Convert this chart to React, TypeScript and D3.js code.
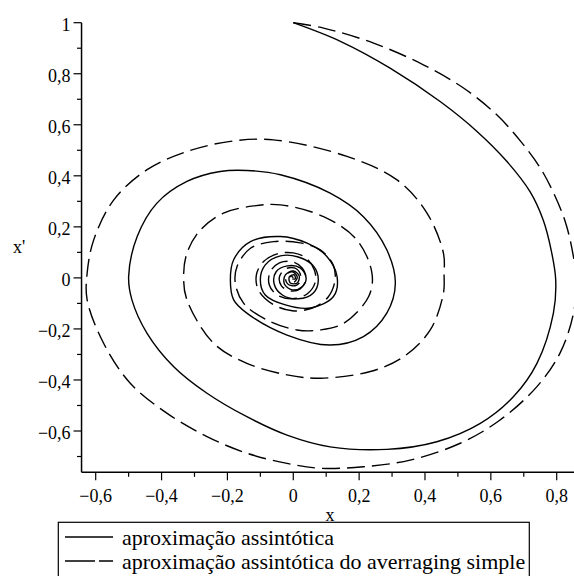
import React from 'react';
import * as d3 from 'd3';

// phase plane values: [x, x']
const assintotica: [number, number][] = [
  [0, 1], [0.143, 0.927], [0.294, 0.822], [0.446, 0.691], [0.558, 0.574], [0.649, 0.456],
  [0.719, 0.338], [0.759, 0.227], [0.783, 0.11], [0.797, -0.008], [0.79, -0.138],
  [0.74, -0.335], [0.669, -0.465], [0.568, -0.57], [0.436, -0.642], [0.284, -0.672],
  [0.112, -0.662], [-0.019, -0.616], [-0.141, -0.544], [-0.262, -0.452], [-0.363, -0.348],
  [-0.444, -0.217], [-0.49, -0.086], [-0.5, 0.005], [-0.474, 0.162], [-0.414, 0.293],
  [-0.323, 0.378], [-0.222, 0.417], [-0.141, 0.421], [-0.039, 0.404], [0.112, 0.332],
  [0.213, 0.24], [0.284, 0.11], [0.31, -0.021], [0.284, -0.138], [0.213, -0.23],
  [0.112, -0.263], [-0.019, -0.224], [-0.141, -0.138], [-0.181, -0.086], [-0.191, -0.008],
  [-0.181, 0.071], [-0.13, 0.142], [-0.039, 0.162], [0.042, 0.136], [0.102, 0.084],
  [0.133, 0.005], [0.122, -0.073], [0.052, -0.118], [-0.024, -0.106], [-0.085, -0.067],
  [-0.1, -0.008], [-0.085, 0.051], [-0.039, 0.086], [0.015, 0.082], [0.061, 0.047],
  [0.076, -0.008], [0.061, -0.059], [0.015, -0.082], [-0.033, -0.067], [-0.058, -0.024],
  [-0.052, 0.024], [-0.018, 0.047], [0.021, 0.039], [0.039, 0.0], [0.027, -0.035],
  [-0.003, -0.047], [-0.027, -0.024], [-0.024, 0.012], [0.0, 0.027], [0.018, 0.008],
  [0.012, -0.02], [-0.009, -0.02], [-0.012, 0.004], [0.003, 0.012], [0.006, -0.004],
  [-0.003, -0.004],
];

const averaging: [number, number][] = [
  [0, 1], [0.092, 0.979], [0.244, 0.92], [0.395, 0.835], [0.517, 0.744], [0.618, 0.639],
  [0.692, 0.533], [0.75, 0.431], [0.792, 0.329], [0.826, 0.22], [0.847, 0.11], [0.859, -0.008],
  [0.851, -0.138], [0.81, -0.295], [0.74, -0.426], [0.628, -0.557], [0.507, -0.648],
  [0.355, -0.714], [0.213, -0.74], [0.082, -0.746], [-0.019, -0.727], [-0.141, -0.687],
  [-0.262, -0.622], [-0.383, -0.531], [-0.495, -0.413], [-0.576, -0.256], [-0.626, -0.086],
  [-0.626, 0.018], [-0.606, 0.149], [-0.545, 0.306], [-0.444, 0.424], [-0.323, 0.495],
  [-0.191, 0.535], [-0.06, 0.541], [0.163, 0.476], [0.315, 0.384], [0.406, 0.254],
  [0.456, 0.097], [0.458, 0.012], [0.456, -0.06], [0.416, -0.204], [0.335, -0.309],
  [0.234, -0.367], [0.082, -0.393], [-0.019, -0.38], [-0.141, -0.335], [-0.242, -0.256],
  [-0.323, -0.086], [-0.333, 0.005], [-0.323, 0.097], [-0.282, 0.188], [-0.212, 0.254],
  [-0.12, 0.282], [-0.039, 0.286], [0.092, 0.24], [0.193, 0.149], [0.239, 0.018],
  [0.229, -0.073], [0.153, -0.178], [0.082, -0.204], [0.011, -0.204], [-0.08, -0.165],
  [-0.151, -0.099], [-0.176, -0.021], [-0.171, 0.044], [-0.13, 0.116], [-0.06, 0.142],
  [0.021, 0.137], [0.082, 0.11], [0.121, 0.051], [0.127, -0.008], [0.106, -0.075],
  [0.058, -0.118], [-0.003, -0.129], [-0.064, -0.102], [-0.106, -0.047], [-0.112, 0.012],
  [-0.091, 0.063], [-0.049, 0.094], [0, 0.098], [0.039, 0.078], [0.064, 0.031],
  [0.067, -0.016], [0.042, -0.063], [-0.003, -0.082], [-0.049, -0.067], [-0.073, -0.027],
  [-0.07, 0.024], [-0.042, 0.059], [-0.003, 0.063], [0.027, 0.039], [0.039, -0.004],
  [0.021, -0.043], [-0.009, -0.051], [-0.036, -0.031], [-0.042, 0.004], [-0.024, 0.035],
  [0.003, 0.039], [0.021, 0.016], [0.018, -0.02], [-0.003, -0.031], [-0.021, -0.016],
  [-0.021, 0.012], [-0.003, 0.024], [0.012, 0.004], [0.003, -0.016], [-0.009, -0.008],
  [-0.006, 0.008], [0, 0],
];

const xMajor = [-0.6, -0.4, -0.2, 0, 0.2, 0.4, 0.6, 0.8];
const xLabels = ['\u22120,6', '\u22120,4', '\u22120,2', '0', '0,2', '0,4', '0,6', '0,8'];
const xMinor = [-0.5, -0.3, -0.1, 0.1, 0.3, 0.5, 0.7];
const yMajor = [-0.6, -0.4, -0.2, 0, 0.2, 0.4, 0.6, 0.8, 1];
const yLabels = ['\u22120,6', '\u22120,4', '\u22120,2', '0', '0,2', '0,4', '0,6', '0,8', '1'];
const yMinor = [-0.7, -0.5, -0.3, -0.1, 0.1, 0.3, 0.5, 0.7, 0.9];
const legendLabels = ['aproximação assintótica', 'aproximação assintótica do averraging simple'];

const W = 574;
const H = 576;
const FONT = 'Liberation Serif';

export default function App() {
  const x = d3.scaleLinear().domain([-0.6, 0.8]).range([95.7, 556.7]);
  const y = d3.scaleLinear().domain([-0.6, 1]).range([431, 22.7]);
  const left = x(-0.643);
  const bottom = y(-0.762);

  const line = d3.line<[number, number]>()
    .x(d => x(d[0]))
    .y(d => y(d[1]))
    .curve(d3.curveCatmullRom.alpha(0.5));

  return (
    <svg width={W} height={H} style={{ position: 'absolute', left: 0, top: 0 }}>
      <rect width={W} height={H} fill="#fff" />

      <path d={line(averaging) ?? ''} fill="none" stroke="#000" strokeWidth={1.4} strokeDasharray="18 7" />
      <path d={line(assintotica) ?? ''} fill="none" stroke="#000" strokeWidth={1.4} />

      {/* axes */}
      <line x1={left} x2={left} y1={y(1)} y2={bottom} stroke="#000" strokeWidth={1.5} />
      <line x1={left} x2={W} y1={bottom} y2={bottom} stroke="#000" strokeWidth={1.5} />

      {yMajor.map((v, i) => (
        <g key={'ym' + i}>
          <line x1={left - 8} x2={left} y1={y(v)} y2={y(v)} stroke="#000" strokeWidth={1.2} />
          <text x={left - 11} y={y(v) + 8} fontFamily={FONT} fontSize={18} textAnchor="end">{yLabels[i]}</text>
        </g>
      ))}
      {yMinor.map((v, i) => (
        <line key={'yn' + i} x1={left - 4.5} x2={left} y1={y(v)} y2={y(v)} stroke="#000" strokeWidth={1.2} />
      ))}
      {xMajor.map((v, i) => (
        <g key={'xm' + i}>
          <line x1={x(v)} x2={x(v)} y1={bottom} y2={bottom + 8} stroke="#000" strokeWidth={1.2} />
          <text x={x(v)} y={bottom + 29.5} fontFamily={FONT} fontSize={18} textAnchor="middle">{xLabels[i]}</text>
        </g>
      ))}
      {xMinor.map((v, i) => (
        <line key={'xn' + i} x1={x(v)} x2={x(v)} y1={bottom} y2={bottom + 4.5} stroke="#000" strokeWidth={1.2} />
      ))}

      <text x={330} y={520.5} fontFamily={FONT} fontSize={18} textAnchor="middle">x</text>
      <text x={13} y={253} fontFamily={FONT} fontSize={18}>x'</text>

      {/* legend */}
      <rect x={58.3} y={522.3} width={471} height={60} fill="none" stroke="#000" strokeWidth={1.2} />
      <line x1={65} x2={113} y1={537} y2={537} stroke="#000" strokeWidth={1.4} />
      <line x1={65} x2={113} y1={561} y2={561} stroke="#000" strokeWidth={1.4} strokeDasharray="30 4" />
      <text x={122} y={545} fontFamily={FONT} fontSize={22}>{legendLabels[0]}</text>
      <text x={122} y={569} fontFamily={FONT} fontSize={22}>{legendLabels[1]}</text>
    </svg>
  );
}
